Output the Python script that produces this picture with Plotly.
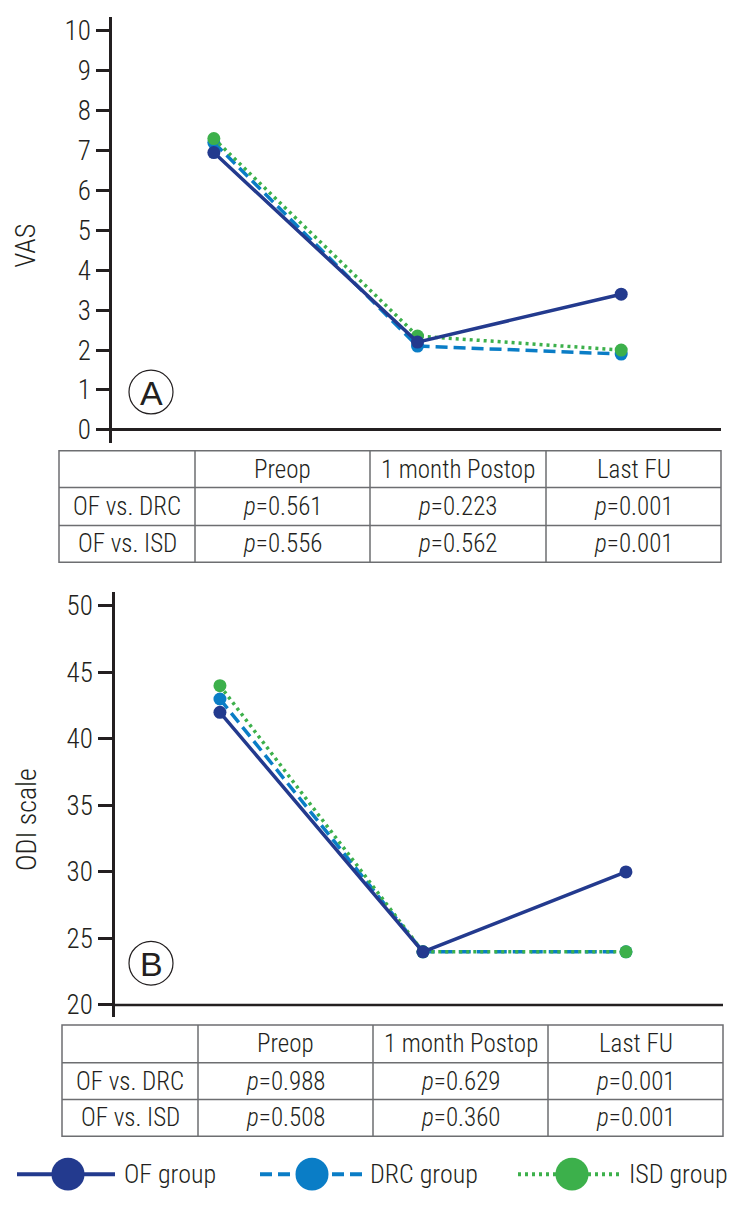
import plotly.graph_objects as go

W, H = 739, 1210
FONT = "Roboto Condensed, DejaVu Sans Condensed, sans-serif"
WEIGHT = 300
INK = "#231f20"
GRID = "#6d6e71"

# data
timepoints = ["Preop", "1 month Postop", "Last FU"]
groups = ["OF group", "DRC group", "ISD group"]
colors = ["#233a8e", "#0a7dc6", "#3cb04b"]
dashes = ["solid", "12px,6px", "3px,4px"]

vas_of = [6.95, 2.2, 3.4]
vas_drc = [7.2, 2.1, 1.9]
vas_isd = [7.3, 2.35, 2.0]

odi_of = [42, 24, 30]
odi_drc = [43, 24, 24]
odi_isd = [44, 24, 24]

comparisons = ["OF vs. DRC", "OF vs. ISD"]
vas_p_drc = ["0.561", "0.223", "0.001"]
vas_p_isd = ["0.556", "0.562", "0.001"]
odi_p_drc = ["0.988", "0.629", "0.001"]
odi_p_isd = ["0.508", "0.360", "0.001"]

vas_ticks = list(range(0, 11))
odi_ticks = [20, 25, 30, 35, 40, 45, 50]


def px(x):
    return x / W


def py(y):
    return 1 - y / H


fig = go.Figure()

# draw order: DRC, ISD, then OF on top
order = [1, 2, 0]
panels = [("x", "y", [vas_of, vas_drc, vas_isd]),
          ("x2", "y2", [odi_of, odi_drc, odi_isd])]
for xa, ya, series in panels:
    for i in order:
        fig.add_trace(go.Scatter(
            x=timepoints, y=series[i], name=groups[i], xaxis=xa, yaxis=ya,
            mode="lines+markers", showlegend=False,
            line=dict(color=colors[i], width=3.5, dash=dashes[i]),
            marker=dict(color=colors[i], size=13)))

axis_common = dict(showgrid=False, linecolor=INK, tickcolor=INK,
                   tickfont=dict(family=FONT, size=27, color=INK,
                                 weight=WEIGHT))

fig.update_layout(
    width=W, height=H,
    margin=dict(l=0, r=0, t=0, b=0),
    paper_bgcolor="white", plot_bgcolor="white",
    showlegend=False,
    xaxis=dict(domain=[px(112), px(721)], anchor="y", range=[-0.5, 2.49],
               type="category", categoryarray=timepoints,
               showticklabels=False, ticks="", showline=False, zeroline=False,
               showgrid=False),
    yaxis=dict(domain=[py(443), py(15)], anchor="x",
               range=[-13 / 40.1, 415 / 40.1], tickvals=vas_ticks,
               ticks="outside", ticklen=13, tickwidth=2.5,
               showline=True, linewidth=2.5,
               zeroline=True, zerolinecolor=INK, zerolinewidth=2.5,
               **axis_common),
    xaxis2=dict(domain=[px(115), px(723)], anchor="y2", range=[-0.517, 2.478],
                type="category", categoryarray=timepoints,
                showticklabels=False, ticks="", showline=False, zeroline=False,
                showgrid=False),
    yaxis2=dict(domain=[py(1020), py(593)], anchor="x2",
                range=[20 - 12 / 13.37, 20 + 415 / 13.37], tickvals=odi_ticks,
                ticks="outside", ticklen=14, tickwidth=2.5,
                showline=True, linewidth=2.5, zeroline=False,
                **axis_common),
)

# x axis line of panel B at its lowest tick
fig.add_shape(type="line", xref="x2 domain", yref="y2", x0=0, x1=1,
              y0=odi_ticks[0], y1=odi_ticks[0],
              line=dict(color=INK, width=2.5))


def text(s, x, y, size=25, xanchor="center", angle=0, family=FONT,
         weight=WEIGHT):
    fig.add_annotation(text=s, x=px(x), y=py(y), xref="paper", yref="paper",
                       xanchor=xanchor, yanchor="middle", textangle=angle,
                       showarrow=False,
                       font=dict(family=family, size=size, color=INK,
                                 weight=weight))


# axis titles
text("VAS", 26, 245, size=28, angle=-90)
text("ODI scale", 27, 822, size=28, angle=-90)

# panel letters in circles
for letter, cx, cy in [("A", 151, 392), ("B", 151, 966)]:
    r = 22
    fig.add_shape(type="circle", xref="paper", yref="paper",
                  x0=px(cx - r), x1=px(cx + r), y0=py(cy + r), y1=py(cy - r),
                  line=dict(color=INK, width=1.2), fillcolor="white")
    text(letter, cx, cy + 1, size=34, family="Liberation Sans, Arial",
         weight=400)

# p-value tables under each panel
tables = [([59, 195, 370, 546, 721], [451, 488, 526, 563], vas_p_drc, vas_p_isd),
          ([62, 198, 373, 548, 723], [1028, 1066, 1103, 1140], odi_p_drc, odi_p_isd)]
for xs, ys, p1, p2 in tables:
    fig.add_shape(type="rect", xref="paper", yref="paper",
                  x0=px(xs[0]), x1=px(xs[-1]), y0=py(ys[-1]), y1=py(ys[0]),
                  line=dict(color=GRID, width=1.5))
    for xv in xs[1:-1]:
        fig.add_shape(type="line", xref="paper", yref="paper",
                      x0=px(xv), x1=px(xv), y0=py(ys[-1]), y1=py(ys[0]),
                      line=dict(color=GRID, width=1.5))
    for yv in ys[1:-1]:
        fig.add_shape(type="line", xref="paper", yref="paper",
                      x0=px(xs[0]), x1=px(xs[-1]), y0=py(yv), y1=py(yv),
                      line=dict(color=GRID, width=1.5))
    rows = [[""] + timepoints,
            [comparisons[0]] + [f"<i>p</i>={v}" for v in p1],
            [comparisons[1]] + [f"<i>p</i>={v}" for v in p2]]
    for r, row in enumerate(rows):
        for c, s in enumerate(row):
            if s:
                text(s, (xs[c] + xs[c + 1]) / 2, (ys[r] + ys[r + 1]) / 2)

# legend drawn by hand
legend_y = 1178
legend_items = [(17, 115, 68, 122), (260, 362, 312, 368), (518, 620, 572, 627)]
for i, (lx0, lx1, cx, tx) in enumerate(legend_items):
    fig.add_shape(type="line", xref="paper", yref="paper",
                  x0=px(lx0), x1=px(lx1), y0=py(legend_y), y1=py(legend_y),
                  line=dict(color=colors[i], width=4, dash=dashes[i]))
    r = 16.5
    fig.add_shape(type="circle", xref="paper", yref="paper",
                  x0=px(cx - r), x1=px(cx + r), y0=py(legend_y + r),
                  y1=py(legend_y - r), line=dict(width=0),
                  fillcolor=colors[i])
    text(groups[i], tx, legend_y, size=26, xanchor="left")

fig.write_html("out.html", config={"displayModeBar": False},
               post_script="document.body.style.margin='0px';")
